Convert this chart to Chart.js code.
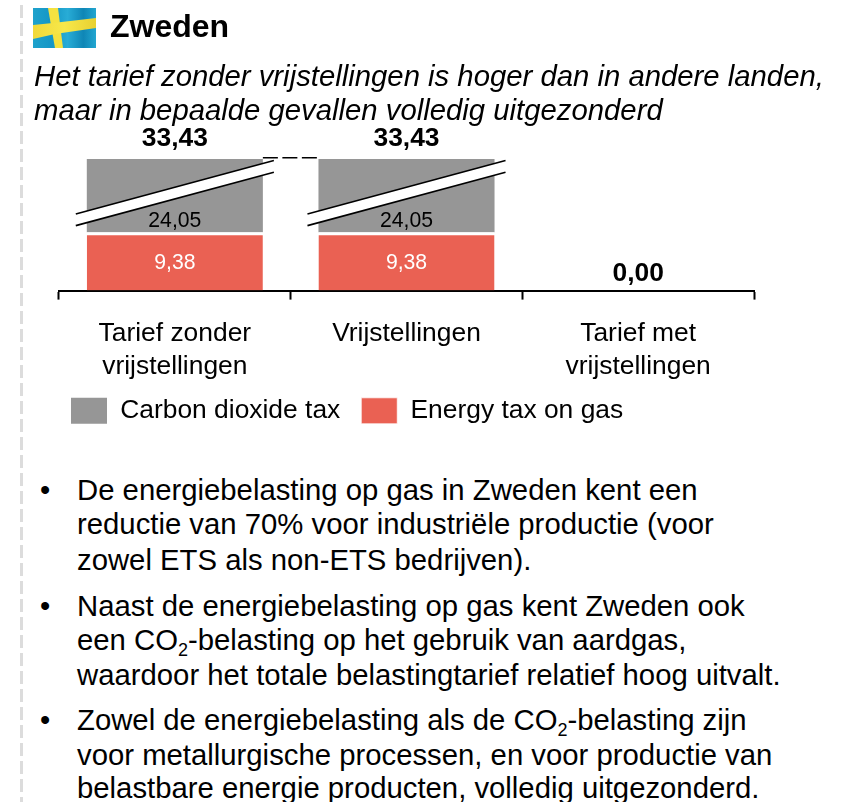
<!DOCTYPE html>
<html><head><meta charset="utf-8">
<script src="https://cdn.jsdelivr.net/npm/chart.js@4"></script>
<style>
html,body{margin:0;padding:0;background:#fff;width:851px;height:802px;overflow:hidden}
body{position:relative;font-family:"Liberation Sans",Arial,sans-serif;color:#000}
#c{position:absolute;left:0;top:0}
.t{position:absolute;white-space:nowrap;line-height:0}
.t sub{font-size:18px;line-height:0;vertical-align:-6px}
#rule{position:absolute;left:20px;top:5px;width:3px;height:797px;background:repeating-linear-gradient(to bottom,#dcdcdc 0 13px,transparent 13px 18px)}
#flag{position:absolute;left:33px;top:8px}
</style></head><body>
<div id="rule"></div>
<svg id="flag" width="63" height="40" viewBox="0 0 63 40">
<defs><linearGradient id="b" x1="0" x2="1" y1="0" y2="0"><stop offset="0" stop-color="#1ea2cc"/><stop offset=".3" stop-color="#1496c6"/><stop offset=".55" stop-color="#28acd6"/><stop offset=".8" stop-color="#0f86b6"/><stop offset="1" stop-color="#22a6d0"/></linearGradient>
<linearGradient id="y" x1="0" x2="1" y1="0" y2="0"><stop offset="0" stop-color="#f0d83a"/><stop offset=".5" stop-color="#f7e84a"/><stop offset="1" stop-color="#e8d030"/></linearGradient></defs>
<rect width="63" height="40" fill="url(#b)"/>
<polygon points="15,0 25,0 30,40 22,40" fill="#f4e240"/>
<polygon points="0,17 20,15 63,10 63,20 22,26 0,31" fill="url(#y)"/>
</svg>
<canvas id="c" width="851" height="459"></canvas>
<script>
const categories = [["Tarief zonder","vrijstellingen"],"Vrijstellingen",["Tarief met","vrijstellingen"]];
const seriesNames = ["Energy tax on gas","Carbon dioxide tax"];
const energyTax = [9.38,9.38,0];
const carbonTax = [24.05,24.05,0];
const totals = [33.43,33.43,0];
const redColor = "#EA6153", grayColor = "#969696";
const axisBreakFrom = 15.7, axisBreakTo = 27.94;
const fmt = v => v.toFixed(2).replace(".",",");

const FONT = '"Liberation Sans",Arial,sans-serif';
const title = "Zweden";
const subtitleLines = ["Het tarief zonder vrijstellingen is hoger dan in andere landen,","maar in bepaalde gevallen volledig uitgezonderd"];
const bullets = [
 ["De energiebelasting op gas in Zweden kent een","reductie van 70% voor industriële productie (voor","zowel ETS als non-ETS bedrijven)."],
 ["Naast de energiebelasting op gas kent Zweden ook","een CO<sub>2</sub>-belasting op het gebruik van aardgas,","waardoor het totale belastingtarief relatief hoog uitvalt."],
 ["Zowel de energiebelasting als de CO<sub>2</sub>-belasting zijn","voor metallurgische processen, en voor productie van","belastbare energie producten, volledig uitgezonderd."]
];
const bulletBaselines = [[500,534,570],[616,650,685],[730,765,798]];

function put(html,x,base,size,extra){
  const d=document.createElement('div');d.className='t';d.innerHTML=html;
  d.style.left=x+'px';d.style.top=(base-0.3465*size)+'px';d.style.fontSize=size+'px';
  if(extra)Object.assign(d.style,extra);document.body.appendChild(d);
}
put(title,110,37,32,{fontWeight:'bold'});
subtitleLines.forEach((l,i)=>put(l,34,[86,120][i],29.3,{fontStyle:'italic'}));
bullets.forEach((b,i)=>{
  put('•',40,bulletBaselines[i][0],29.3);
  b.forEach((l,j)=>put(l,77,bulletBaselines[i][j],29.3));
});

class BrokenLinearScale extends Chart.LinearScale{
  getPixelForValue(v){
    if(v===null||v===undefined||isNaN(v))return NaN;
    const gap=axisBreakTo-axisBreakFrom;
    const shown=v<=axisBreakFrom?v:(v>=axisBreakTo?v-gap:axisBreakFrom);
    return this.getPixelForDecimal(shown/(this.max-gap));
  }
}
BrokenLinearScale.id='brokenLinear';
BrokenLinearScale.defaults=Chart.LinearScale.defaults;
Chart.register(BrokenLinearScale);

const placeLegend={id:'placeLegend',afterLayout(chart){
  chart.legend.left=50;
  chart.legend.top-=25;
}};

const annotate={id:'annotate',afterDatasetsDraw(chart){
  const {ctx,scales:{x,y}}=chart;
  const bars=chart.getDatasetMeta(1).data;
  ctx.save();
  // axis-break bands on the first two bars
  const halfBar=bars[0].width/2, over=11, slope=0.27, halfGap=5.8;
  [0,1].forEach(i=>{
    const cx=x.getPixelForValue(i), cy=y.getPixelForValue(axisBreakFrom);
    const l=cx-halfBar-over, r=cx+halfBar+over, dy=(r-l)/2*slope;
    ctx.fillStyle='#fff';
    ctx.beginPath();ctx.moveTo(l,cy+dy-halfGap);ctx.lineTo(r,cy-dy-halfGap);ctx.lineTo(r,cy-dy+halfGap);ctx.lineTo(l,cy+dy+halfGap);ctx.closePath();ctx.fill();
    ctx.strokeStyle='#000';ctx.lineWidth=1.6;
    [-halfGap,halfGap].forEach(o=>{ctx.beginPath();ctx.moveTo(l,cy+dy+o);ctx.lineTo(r,cy-dy+o);ctx.stroke();});
  });
  // dashed connector
  const topY=y.getPixelForValue(totals[0])-1.3;
  ctx.strokeStyle='#000';ctx.lineWidth=1.5;ctx.setLineDash([15,4.5]);
  ctx.beginPath();ctx.moveTo(bars[0].x+halfBar,topY);ctx.lineTo(bars[1].x-halfBar,topY);ctx.stroke();
  ctx.setLineDash([]);
  // labels
  ctx.textAlign='center';ctx.textBaseline='middle';
  ctx.font='21.2px '+FONT;
  [0,1].forEach(i=>{
    const cx=x.getPixelForValue(i);
    ctx.fillStyle='#000';
    ctx.fillText(fmt(carbonTax[i]),cx,y.getPixelForValue(energyTax[i])-11);
    ctx.fillStyle='#fff';
    ctx.fillText(fmt(energyTax[i]),cx,(y.getPixelForValue(0)+y.getPixelForValue(energyTax[i]))/2+2);
  });
  ctx.fillStyle='#000';ctx.font='bold 26.4px '+FONT;
  totals.forEach((t,i)=>ctx.fillText(fmt(t),x.getPixelForValue(i),y.getPixelForValue(t)-(t>0?20.5:17)));
  ctx.restore();
}};

new Chart(document.getElementById('c'),{
  type:'bar',
  data:{labels:categories,datasets:[
    {label:seriesNames[0],data:energyTax,backgroundColor:redColor,borderColor:'#fff',borderWidth:{top:3,left:0,right:0,bottom:0},borderSkipped:false,stack:'s'},
    {label:seriesNames[1],data:carbonTax,backgroundColor:grayColor,stack:'s'}
  ]},
  plugins:[placeLegend,annotate],
  options:{
    responsive:false,animation:false,
    layout:{padding:{left:59,right:97,top:159,bottom:0}},
    datasets:{bar:{barPercentage:0.76,categoryPercentage:1}},
    scales:{
      x:{stacked:true,offset:true,
        grid:{display:true,drawOnChartArea:false,drawTicks:true,offset:true,tickLength:9,tickWidth:2,tickColor:'#000'},
        border:{display:true,color:'#000',width:2},
        ticks:{autoSkip:false,maxRotation:0,color:'#000',padding:18,font:{family:FONT,size:26.4,lineHeight:1.25}}},
      y:{type:'brokenLinear',stacked:true,display:false,min:0,max:totals[0]}
    },
    plugins:{
      tooltip:{enabled:false},
      legend:{display:true,position:'bottom',align:'start',reverse:true,
        labels:{boxWidth:36,boxHeight:26,padding:21,color:'#000',font:{family:FONT,size:26.4}}}
    }
  }
});
</script>
</body></html>
